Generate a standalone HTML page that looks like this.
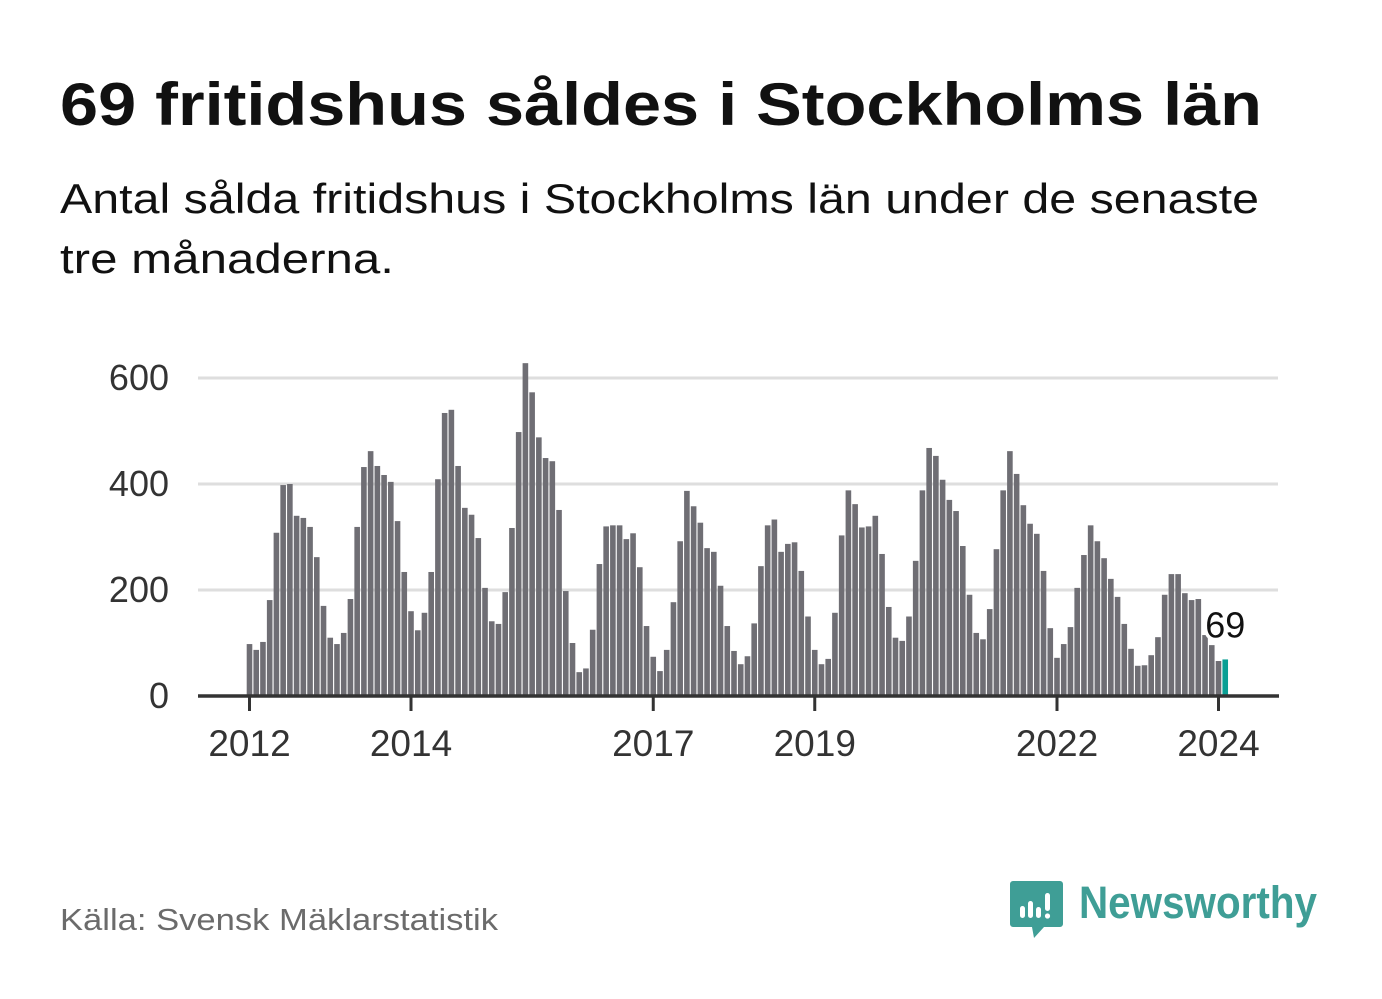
<!DOCTYPE html>
<html><head><meta charset="utf-8">
<style>
html,body{margin:0;padding:0;background:#fff;}
svg{display:block;font-family:"Liberation Sans",sans-serif;}
</style></head>
<body>
<svg id="chart" width="1382" height="999" viewBox="0 0 1382 999">
<text x="60" y="125" font-size="60" font-weight="bold" fill="#111" textLength="1202" lengthAdjust="spacingAndGlyphs">69 fritidshus såldes i Stockholms län</text>
<text x="60" y="213" font-size="42" fill="#111" textLength="1199" lengthAdjust="spacingAndGlyphs">Antal sålda fritidshus i Stockholms län under de senaste</text>
<text x="60" y="273" font-size="42" fill="#111" textLength="334" lengthAdjust="spacingAndGlyphs">tre månaderna.</text>
<g id="grid"></g>
<g id="ylabels"></g>
<g id="bars"></g>
<g id="xaxis"></g>
<g id="annot"></g>
<text x="60" y="930" font-size="31" fill="#6b6b6b" textLength="438" lengthAdjust="spacingAndGlyphs">Källa: Svensk Mäklarstatistik</text>
<g>
<path d="M1013,881 h47 a3,3 0 0 1 3,3 v40 a3,3 0 0 1 -3,3 h-16 l-10,11 l-2,-11 h-19 a3,3 0 0 1 -3,-3 v-40 a3,3 0 0 1 3,-3z" fill="#3f9e96"/>
<rect x="1020" y="906" width="5" height="12" rx="2.5" fill="#fff"/>
<rect x="1028" y="901" width="5" height="17" rx="2.5" fill="#fff"/>
<rect x="1036" y="907" width="5" height="11" rx="2.5" fill="#fff"/>
<rect x="1045" y="893" width="5" height="18" rx="2.5" fill="#fff"/>
<circle cx="1047.5" cy="916" r="2.6" fill="#fff"/>
<text x="1079" y="918" font-size="45" font-weight="bold" fill="#3f9e96" textLength="238" lengthAdjust="spacingAndGlyphs">Newsworthy</text>
</g>
</svg>
<script>
const values = [
98,87,102,181,308,398,400,340,336,319,262,170,
110,98,119,183,319,432,462,434,417,404,330,234,
160,124,157,234,409,534,540,434,355,342,298,204,
141,136,196,317,498,628,573,488,449,443,351,198,
100,45,52,125,249,320,322,322,296,307,243,132,
74,47,87,177,292,387,358,327,279,272,208,132,
85,60,75,137,245,322,333,272,287,290,236,150,
87,60,70,157,303,388,362,318,320,340,268,168,
110,104,150,255,388,468,453,408,370,349,283,191,
119,107,164,277,388,462,419,360,325,306,236,128,
72,98,130,204,266,322,292,260,221,187,136,89,
57,58,77,111,191,230,230,194,181,183,115,96,
66,69
];
const startYear = 2012;
const yTicks = [0,200,400,600];
const xTickYears = [2012,2014,2017,2019,2022,2024];
const NS="http://www.w3.org/2000/svg";
const x0=249.5, monthStep=969/144, yBase=696, yScale=(696-378)/600;
const xs = i => x0 + i*monthStep;
const ys = v => yBase - v*yScale;
function mk(tag, attrs, parent){const e=document.createElementNS(NS,tag);for(const k in attrs)e.setAttribute(k,attrs[k]);parent.appendChild(e);return e;}
const grid=document.getElementById('grid'), yl=document.getElementById('ylabels');
yTicks.forEach(t=>{
  if(t>0){const l=mk('line',{x1:198,x2:1278,y1:ys(t),y2:ys(t),stroke:'#dedede','stroke-width':3},grid);
  
  }
  const tx=mk('text',{x:169,y:ys(t)+12,'font-size':36,fill:'#333','text-anchor':'end'},yl);
  tx.textContent=t;
  
  
});
const bars=document.getElementById('bars');
values.forEach((v,i)=>{
  const last=i===values.length-1;
  const r=mk('rect',{x:xs(i)-2.8,y:ys(v),width:5.6,height:yBase-ys(v),fill:last?'#0a9f94':'#6f6e74'},bars);
  
  
});
const xa=document.getElementById('xaxis');
const base=mk('line',{x1:198,x2:1279,y1:yBase,y2:yBase,stroke:'#333','stroke-width':3.5},xa);


xTickYears.forEach(y=>{
  const x=xs((y-startYear)*12);
  const tk=mk('line',{x1:x,x2:x,y1:yBase,y2:yBase+15,stroke:'#333','stroke-width':3},xa);
  
  
  const tx=mk('text',{x:x,y:756,'font-size':37,fill:'#333','text-anchor':'middle'},xa);
  tx.textContent=y;
  
  
});
const an=document.getElementById('annot');
const li=values.length-1;
const lbl=mk('text',{x:xs(li),y:ys(values[li])-22,'font-size':36,fill:'#111','text-anchor':'middle',stroke:'#fff','stroke-width':7,'paint-order':'stroke','stroke-linejoin':'round'},an);
lbl.textContent=values[li];


</script>
</body></html>
